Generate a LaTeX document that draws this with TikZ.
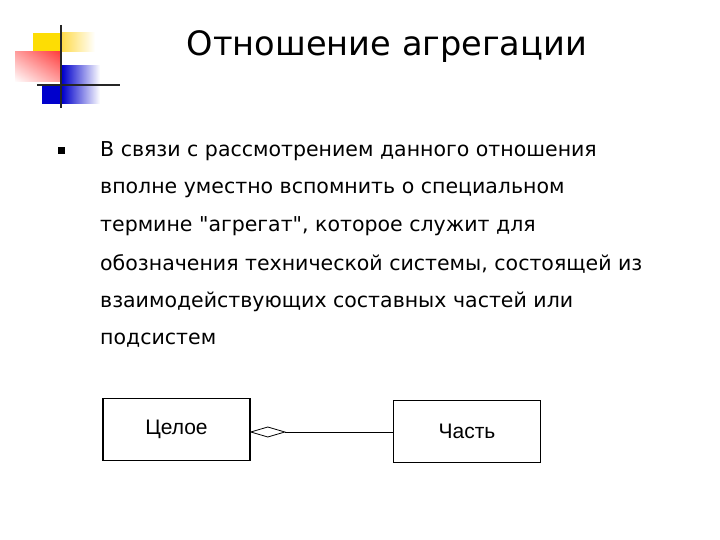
\documentclass[tikz,border=0pt]{standalone}
\usepackage{fontspec}
\setmainfont{DejaVu Sans}[Ligatures=TeXOff]
\newfontfamily\boxfont{Liberation Sans}
\begin{document}
\begin{tikzpicture}[x=1pt,y=-1pt,
  body/.style={anchor=base west,inner sep=0pt,font=\fontsize{20.5}{21}\selectfont},
  umlbox/.style={draw,minimum width=147pt,minimum height=62pt,inner sep=0pt,font=\boxfont\fontsize{21}{21}\selectfont}]
\useasboundingbox[fill=white] (0,0) rectangle (720,540);
% logo
\fill[yellow!80!orange] (33,33) rectangle (62,52);
\shade[left color=yellow!60!orange!70,right color=white] (62,33) rectangle (95,52);
\shade[left color=white,right color=red!75] (15,52) rectangle (60,82);
\shade[top color=red!75,bottom color=white,opacity=0.5] (15,52) rectangle (60,82);
\shade[left color=blue!80!black,right color=white] (62,66) rectangle (100,84);
\fill[blue!80!black] (42,86) rectangle (62,104);
\shade[left color=blue!80!black,right color=white] (62,86) rectangle (100,104);
\draw[line width=2.2pt,black!85] (61,25) -- (61,108);
\draw[line width=2.2pt,black!85] (37,85) -- (120,85);
% title
\node[inner sep=0pt,font=\fontsize{33.6}{34}\selectfont] (title) at (387,47) {Отношение агрегации};
% bullet
\fill (58,147) rectangle (65,154);
\node[body] (l1) at (100,157) {В связи с рассмотрением данного отношения};
\node[body] (l2) at (100,194) {вполне уместно вспомнить о специальном};
\node[body] (l3) at (100,232) {термине "агрегат", которое служит для};
\node[body] (l4) at (100,270) {обозначения технической системы, состоящей из};
\node[body] (l5) at (100,307) {взаимодействующих составных частей или};
\node[body] (l6) at (100,344) {подсистем};
% diagram
\node[umlbox,line width=1.6pt] (whole) at (176.5,429.5) {Целое};
\node[umlbox,line width=0.9pt] (part) at (467,431.5) {Часть};
\coordinate (d1) at (whole.east |- 0,432);
\draw[line width=0.8pt] (d1) -- ++(17,-5) -- ++(17,5) -- ++(-17,5) -- cycle;
\draw[line width=0.8pt] ([xshift=34pt]d1) -- (part.west |- 0,432);
\end{tikzpicture}
\end{document}
